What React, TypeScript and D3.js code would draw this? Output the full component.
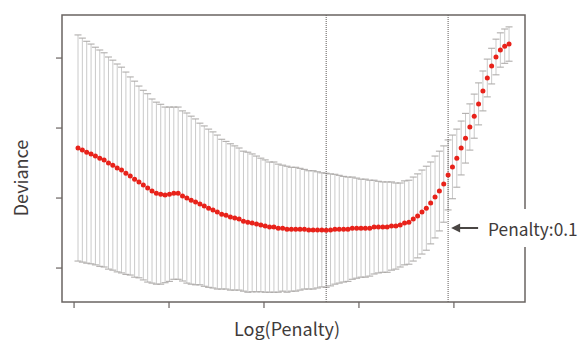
import React from "react";
import * as d3 from "d3";

const WIDTH = 579;
const HEIGHT = 342;
const PLOT = { left: 62, right: 525, top: 15, bottom: 302 };

// Cross-validated mean deviance along the penalty path (100 fits)
const meanDeviance = [
  1.343, 1.337, 1.331, 1.326, 1.32, 1.314, 1.309, 1.3, 1.294, 1.286,
  1.28, 1.271, 1.263, 1.254, 1.246, 1.237, 1.229, 1.22, 1.214, 1.211,
  1.209, 1.211, 1.214, 1.214, 1.206, 1.2, 1.194, 1.189, 1.183, 1.177,
  1.171, 1.166, 1.16, 1.154, 1.151, 1.146, 1.143, 1.14, 1.134, 1.131,
  1.129, 1.126, 1.123, 1.12, 1.117, 1.117, 1.114, 1.114, 1.111, 1.111,
  1.111, 1.111, 1.111, 1.109, 1.109, 1.109, 1.109, 1.108, 1.109, 1.111,
  1.111, 1.111, 1.111, 1.114, 1.114, 1.114, 1.114, 1.114, 1.117, 1.117,
  1.117, 1.117, 1.12, 1.12, 1.123, 1.129, 1.131, 1.14, 1.149, 1.16,
  1.171, 1.186, 1.203, 1.22, 1.24, 1.266, 1.289, 1.314, 1.343, 1.371,
  1.403, 1.434, 1.469, 1.506, 1.543, 1.577, 1.603, 1.623, 1.634, 1.64,
];

// Standard error of the cross-validated deviance
const devianceSE = [
  0.323, 0.32, 0.317, 0.314, 0.311, 0.309, 0.306, 0.303, 0.3, 0.297,
  0.294, 0.289, 0.283, 0.28, 0.274, 0.271, 0.269, 0.263, 0.26, 0.257,
  0.251, 0.249, 0.246, 0.246, 0.243, 0.243, 0.24, 0.237, 0.231, 0.229,
  0.226, 0.223, 0.22, 0.214, 0.211, 0.209, 0.206, 0.203, 0.2, 0.2,
  0.197, 0.194, 0.191, 0.189, 0.186, 0.186, 0.183, 0.18, 0.18, 0.177,
  0.177, 0.174, 0.171, 0.169, 0.169, 0.166, 0.163, 0.163, 0.16, 0.157,
  0.154, 0.151, 0.149, 0.146, 0.143, 0.14, 0.14, 0.137, 0.134, 0.131,
  0.129, 0.129, 0.126, 0.123, 0.12, 0.12, 0.12, 0.12, 0.12, 0.12,
  0.12, 0.117, 0.117, 0.114, 0.109, 0.1, 0.091, 0.083, 0.077, 0.071,
  0.066, 0.063, 0.06, 0.057, 0.054, 0.051, 0.051, 0.049, 0.049, 0.049,
];

// Penalty path: log-spaced grid
const LOG_PENALTY_START = -10.097;
const LOG_PENALTY_STEP = 0.0917;
const logPenalty = meanDeviance.map((_, i) => LOG_PENALTY_START + i * LOG_PENALTY_STEP);

const xDomain = [-10.434, -0.683];
const yDomain = [0.903, 1.723];
const xTicks = [-10.18, -8.18, -6.18, -4.18, -2.18];
const yTicks = [1.0, 1.2, 1.4, 1.6];

const X_LABEL = "Log(Penalty)";
const Y_LABEL = "Deviance";
const PENALTY_PREFIX = "Penalty:";

const FONT = "'Noto Sans CJK JP', 'Noto Sans', sans-serif";
const AXIS_COLOR = "#6a6462";
const TEXT_COLOR = "#3f3b3a";

export default function App() {
  const x = d3.scaleLinear().domain(xDomain).range([PLOT.left, PLOT.right]);
  const y = d3.scaleLinear().domain(yDomain).range([PLOT.bottom, PLOT.top]);

  // minimum-deviance fit and the one-standard-error choice
  const minIdx = d3.minIndex(meanDeviance);
  const threshold = meanDeviance[minIdx] + devianceSE[minIdx];
  let seIdx = minIdx;
  meanDeviance.forEach((m, i) => {
    if (i > minIdx && m <= threshold) seIdx = i;
  });
  const chosenPenalty = Math.exp(logPenalty[seIdx]);
  const label = PENALTY_PREFIX + d3.format(".1f")(chosenPenalty);

  const capHalf = 3.5;
  const xMin = x(logPenalty[minIdx]);
  const xSe = x(logPenalty[seIdx]);
  const labelY = 228;

  return (
    <svg
      width={WIDTH}
      height={HEIGHT}
      style={{ position: "absolute", left: 0, top: 0, background: "#fff" }}
    >
      {/* error bars */}
      <g>
        {meanDeviance.map((m, i) => {
          const cx = x(logPenalty[i]);
          const yHi = y(m + devianceSE[i]);
          const yLo = y(m - devianceSE[i]);
          return (
            <g key={i}>
              <line x1={cx} x2={cx} y1={yHi} y2={yLo} stroke="#cacaca" strokeWidth={1} />
              <line x1={cx - capHalf} x2={cx + capHalf} y1={yHi} y2={yHi} stroke="#a9a6a4" strokeWidth={1} />
              <line x1={cx - capHalf} x2={cx + capHalf} y1={yLo} y2={yLo} stroke="#a9a6a4" strokeWidth={1} />
            </g>
          );
        })}
      </g>

      {/* reference lines at the minimum and the one-SE penalty */}
      {[xMin, xSe].map((lx, i) => (
        <line
          key={i}
          x1={lx}
          x2={lx}
          y1={PLOT.top}
          y2={PLOT.bottom}
          stroke="#5e5a58"
          strokeWidth={1}
          strokeDasharray="1,1"
        />
      ))}

      {/* mean deviance points */}
      <g>
        {meanDeviance.map((m, i) => (
          <circle key={i} cx={x(logPenalty[i])} cy={y(m)} r={2.5} fill="#e8221a" />
        ))}
      </g>

      {/* frame */}
      <rect
        x={PLOT.left}
        y={PLOT.top}
        width={PLOT.right - PLOT.left}
        height={PLOT.bottom - PLOT.top}
        fill="none"
        stroke={AXIS_COLOR}
        strokeWidth={1.5}
      />

      {/* ticks */}
      {yTicks.map((t) => (
        <line key={t} x1={PLOT.left - 6} x2={PLOT.left} y1={y(t)} y2={y(t)} stroke={AXIS_COLOR} strokeWidth={1.2} />
      ))}
      {xTicks.map((t) => (
        <line key={t} x1={x(t)} x2={x(t)} y1={PLOT.bottom} y2={PLOT.bottom + 6} stroke={AXIS_COLOR} strokeWidth={1.2} />
      ))}

      {/* penalty annotation */}
      <rect x={xSe + 32} y={labelY - 19} width={WIDTH - xSe - 32} height={38} fill="#fff" />
      <line x1={xSe + 8} x2={xSe + 30} y1={labelY} y2={labelY} stroke="#4a4644" strokeWidth={2} />
      <path
        d={`M${xSe + 3},${labelY} L${xSe + 12},${labelY - 4.5} L${xSe + 12},${labelY + 4.5} Z`}
        fill="#4a4644"
      />
      <text
        x={xSe + 40}
        y={labelY + 8}
        fontFamily={FONT}
        fontSize={17.3}
        fill={TEXT_COLOR}
      >
        {label}
      </text>

      {/* axis titles */}
      <text
        x={287}
        y={336}
        textAnchor="middle"
        fontFamily={FONT}
        fontSize={18}
        fill={TEXT_COLOR}
      >
        {X_LABEL}
      </text>
      <text
        transform={`translate(28,178) rotate(-90)`}
        textAnchor="middle"
        fontFamily={FONT}
        fontSize={18}
        fill={TEXT_COLOR}
      >
        {Y_LABEL}
      </text>
    </svg>
  );
}
